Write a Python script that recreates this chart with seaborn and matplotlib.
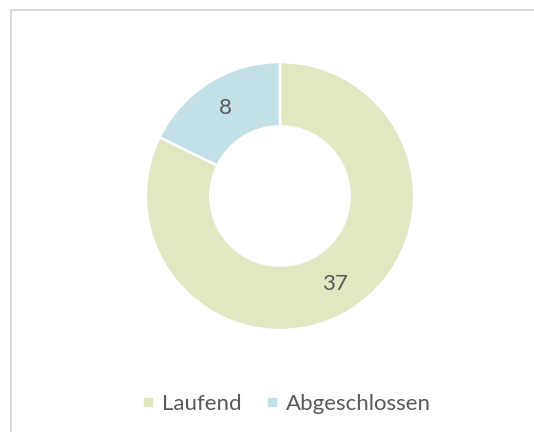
import matplotlib
matplotlib.use("Agg")
import matplotlib.pyplot as plt
import matplotlib.patches as mpatches
from matplotlib.lines import Line2D
import seaborn as sns

# Daten
kategorien = ["Laufend", "Abgeschlossen"]
werte = [37, 8]
farben = ["#E1E6C3", "#C3E0E6"]

sns.set_theme(style="white")
plt.rcParams['font.family'] = ['Lato', 'DejaVu Sans']
textfarbe = "#595959"

fig = plt.figure(figsize=(5.34, 4.32), dpi=100)
W, H = 534, 432

# Rahmen oben und links als schmale Flächen (rechts/unten außerhalb des Bildes)
rahmenfarbe = "#d9d9d9"
fig.patches.append(mpatches.Rectangle((10.25 / W, (432 - 10.75) / H), (534 - 10.25) / W, 1.5 / H,
                                      transform=fig.transFigure, facecolor=rahmenfarbe,
                                      edgecolor="none"))
fig.patches.append(mpatches.Rectangle((10.25 / W, 0), 1.5 / W, (432 - 9.25) / H,
                                      transform=fig.transFigure, facecolor=rahmenfarbe,
                                      edgecolor="none"))

# Donut
cx, cy, r = 280, 432 - 196, 134
ax = fig.add_axes([(cx - r) / W, (cy - r) / H, 2 * r / W, 2 * r / H])
wedges, texts, autotexts = ax.pie(
    werte, colors=sns.color_palette(farben), startangle=90, counterclock=False,
    radius=1.0, autopct=lambda p: f"{round(p * sum(werte) / 100):d}",
    pctdistance=0.77,
    wedgeprops=dict(width=0.48, edgecolor="white", linewidth=1.8),
    textprops=dict(color=textfarbe, fontsize=16),
)
ax.set_xlim(-1, 1)
ax.set_ylim(-1, 1)
ax.set_aspect("equal")
ax.axis("off")

# Legende
handles = [Line2D([0], [0], marker="s", linestyle="", markersize=6,
                  markerfacecolor=f, markeredgecolor=f) for f in farben]
fig.legend(handles, kategorien, loc="center", bbox_to_anchor=(285 / W, 1 - 404 / H),
           ncol=2, frameon=False, fontsize=16, labelcolor=textfarbe,
           handletextpad=0.2, columnspacing=1.0, handlelength=0.8)

fig.savefig("out.png", dpi=100)
